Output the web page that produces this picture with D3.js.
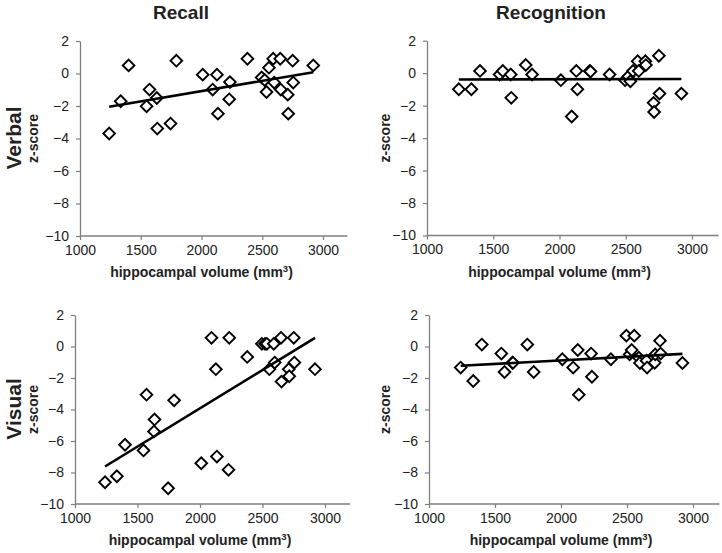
<!DOCTYPE html>
<html>
<head>
<meta charset="utf-8">
<script src="https://cdn.jsdelivr.net/npm/d3@7"></script>
<style>
  html, body { margin: 0; padding: 0; background: #fff; }
  svg { display: block; font-family: "Liberation Sans", Arial, sans-serif; }
</style>
</head>
<body>
<svg id="chart" width="722" height="553"></svg>
<script>
// Hippocampal volume (mm3), shared by all panels
const volume = [1240, 1335, 1400, 1548, 1572, 1632, 1636, 1745, 1793, 2010, 2092, 2127, 2135, 2228, 2234,
                2378, 2495, 2520, 2535, 2555, 2590, 2598, 2648, 2652, 2710, 2714, 2750, 2755, 2920];

const verbalRecall = [-3.69, -1.71, 0.5, -2.02, -0.99, -1.51, -3.39, -3.08, 0.79, -0.07, -0.99, -0.07, -2.47, -1.59, -0.53,
                      0.91, -0.24, -0.4, -1.14, 0.36, 0.91, -0.56, 0.91, -0.99, -1.3, -2.47, 0.79, -0.56, 0.5];
const verbalRecognition = [-0.99, -0.99, 0.14, -0.08, 0.14, -0.08, -1.52, 0.51, -0.08, -0.43, -2.67, 0.14, -0.99, 0.14, 0.1,
                           -0.08, -0.43, -0.2, -0.5, 0.14, 0.74, 0.14, 0.74, 0.5, -1.83, -2.39, 1.07, -1.26, -1.26];
const visualRecall = [-8.62, -8.24, -6.24, -6.6, -3.06, -5.39, -4.63, -9.0, -3.42, -7.41, 0.55, -1.44, -6.99, -7.83, 0.55,
                      -0.66, 0.17, 0.17, 0.17, -1.44, 0.17, -1.02, 0.55, -2.23, -1.44, -1.89, 0.55, -1.02, -1.44];
const visualRecognition = [-1.34, -2.19, 0.12, -0.45, -1.62, -1.03, -1.03, 0.12, -1.62, -0.81, -1.34, -0.22, -3.06, -0.45, -1.92,
                           -0.81, 0.69, -0.5, -0.22, 0.69, -0.71, -1.05, -0.9, -1.34, -1.03, -0.5, 0.37, -0.45, -1.05];

// Trend line end points
const trendX = [1240, 2920];
const trendVerbalRecall = [-2.05, 0.08];
const trendVerbalRecognition = [-0.39, -0.36];
const trendVisualRecall = [-7.62, 0.55];
const trendVisualRecognition = [-1.22, -0.47];

const xTicks = [1000, 1500, 2000, 2500, 3000];
const yTicks = [-10, -8, -6, -4, -2, 0, 2];
const columnTitles = ["Recall", "Recognition"];
const rowTitles = ["Verbal", "Visual"];
const xAxisTitle = "hippocampal volume (mm";
const yAxisTitle = "z-score";

const panels = [
  { ys: verbalRecall, trend: trendVerbalRecall, x0: 80, x1: 323, yTop: 41, yBot: 236 },
  { ys: verbalRecognition, trend: trendVerbalRecognition, x0: 427, x1: 692, yTop: 40.7, yBot: 235.5 },
  { ys: visualRecall, trend: trendVisualRecall, x0: 75, x1: 325, yTop: 315, yBot: 504 },
  { ys: visualRecognition, trend: trendVisualRecognition, x0: 429, x1: 693, yTop: 315, yBot: 504 }
];

const svg = d3.select("#chart");
const axisColor = "#7f7f7f";
const textColor = "#222";
const fontFam = "'Liberation Sans', Arial, sans-serif";

panels.forEach((p, i) => {
  const x = d3.scaleLinear().domain([1000, 3000]).range([p.x0, p.x1]);
  const xEnd = x(3200);
  const y = d3.scaleLinear().domain([-10, 2]).range([p.yBot, p.yTop]);
  const g = svg.append("g");

  // y axis
  const ya = g.append("g").attr("transform", `translate(${p.x0},0)`)
    .call(d3.axisLeft(y).tickValues(yTicks).tickFormat(d3.format("d")).tickSize(4).tickSizeOuter(0).tickPadding(7));
  // x axis
  const xa = g.append("g").attr("transform", `translate(0,${p.yBot})`)
    .call(d3.axisBottom(x).tickValues(xTicks).tickFormat(d3.format("d")).tickSize(4).tickSizeOuter(0).tickPadding(5));
  xa.select(".domain").attr("d", `M${p.x0},0H${xEnd}`);
  [ya, xa].forEach(a => {
    a.select(".domain").attr("stroke", axisColor).attr("stroke-width", 1.3);
    a.selectAll(".tick line").attr("stroke", axisColor).attr("stroke-width", 1.2);
    a.selectAll(".tick text").attr("fill", textColor).style("font-size", "14px")
      .style("font-family", fontFam);
  });

  // points
  const sym = d3.symbol().type(d3.symbolSquare).size(68);
  g.append("g").selectAll("path").data(volume.map((v, k) => [v, p.ys[k]]))
    .join("path")
    .attr("d", sym)
    .attr("transform", d => `translate(${x(d[0])},${y(d[1])}) rotate(45)`)
    .attr("fill", "#fff").attr("stroke", "#000").attr("stroke-width", 1.9);

  // trend line
  g.append("path")
    .datum(trendX.map((v, k) => [v, p.trend[k]]))
    .attr("d", d3.line().x(d => x(d[0])).y(d => y(d[1])))
    .attr("stroke", "#000").attr("stroke-width", 2.6).attr("fill", "none");

  // x axis title
  const t = g.append("text")
    .attr("x", x(2000)).attr("y", p.yBot + 41)
    .attr("text-anchor", "middle")
    .style("font-size", "14px").style("font-weight", "bold").style("font-family", fontFam).attr("fill", textColor)
    .text(xAxisTitle);
  t.append("tspan").attr("dy", -5).style("font-size", "9.5px").text("3");
  t.append("tspan").attr("dy", 5).text(")");

  // y axis title
  const zx = (i % 2 === 0) ? 38 : 390;
  const cy = (p.yTop + p.yBot) / 2;
  g.append("text")
    .attr("transform", `translate(${zx},${cy}) rotate(-90)`)
    .attr("text-anchor", "middle")
    .style("font-size", "14px").style("font-weight", "bold").style("font-family", fontFam).attr("fill", textColor)
    .text(yAxisTitle);
});

// column titles
[[181, 0], [551, 1]].forEach(([cx, k]) => {
  svg.append("text").attr("x", cx).attr("y", 19).attr("text-anchor", "middle")
    .style("font-size", "19px").style("font-weight", "bold").style("font-family", fontFam).attr("fill", textColor)
    .text(columnTitles[k]);
});
// row titles
[[138, 0], [409, 1]].forEach(([cy, k]) => {
  svg.append("text").attr("transform", `translate(21,${cy}) rotate(-90)`).attr("text-anchor", "middle")
    .style("font-size", "21px").style("font-weight", "bold").style("font-family", fontFam).attr("fill", textColor)
    .text(rowTitles[k]);
});
</script>
</body>
</html>
